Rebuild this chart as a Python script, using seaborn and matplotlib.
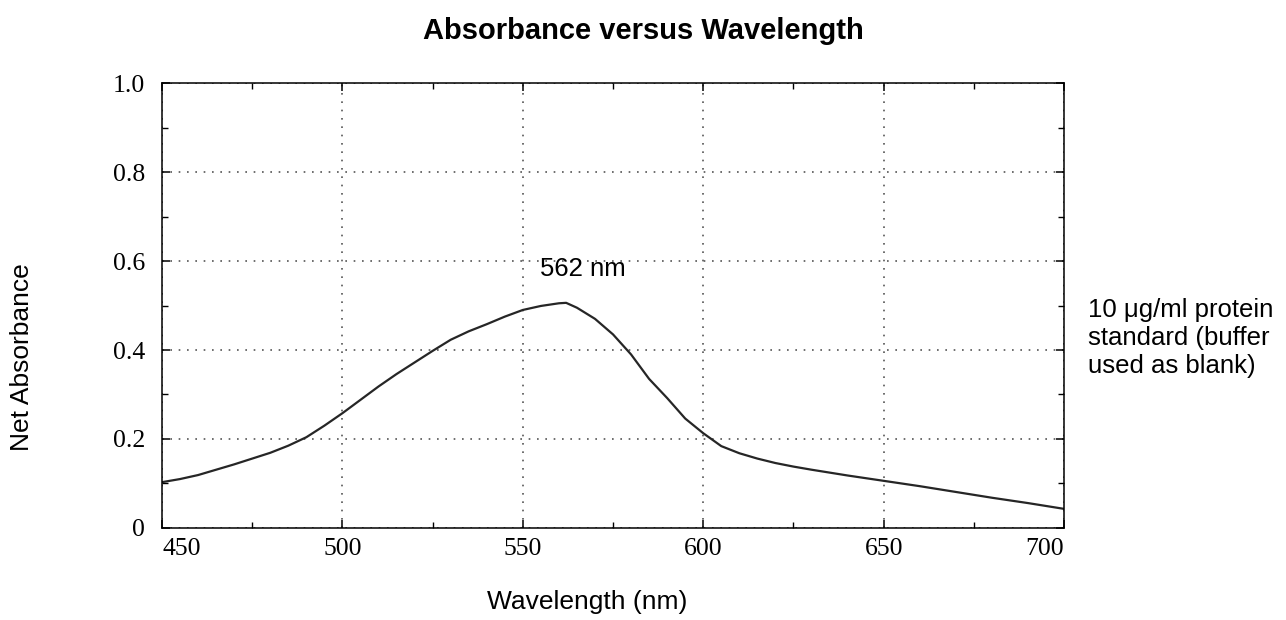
import matplotlib
matplotlib.use("Agg")
import matplotlib.pyplot as plt
import seaborn as sns
import pandas as pd
from matplotlib.ticker import MultipleLocator

# spectrum
wavelength = [450, 455, 460, 465, 470, 475, 480, 485, 490, 495,
              500, 505, 510, 515, 520, 525, 530, 535, 540, 545,
              550, 555, 560, 562, 565, 570, 575, 580, 585, 590,
              595, 600, 605, 610, 615, 620, 625, 630, 640, 650,
              660, 670, 680, 690, 700]
absorbance = [0.103, 0.110, 0.119, 0.131, 0.143, 0.156, 0.169, 0.185, 0.204, 0.230,
              0.258, 0.288, 0.318, 0.346, 0.372, 0.398, 0.423, 0.442, 0.458, 0.475,
              0.490, 0.499, 0.505, 0.506, 0.495, 0.470, 0.435, 0.390, 0.335, 0.292,
              0.246, 0.213, 0.184, 0.168, 0.156, 0.146, 0.138, 0.131, 0.118, 0.106,
              0.094, 0.081, 0.068, 0.056, 0.043]

x_ticks = [450, 500, 550, 600, 650, 700]
y_ticks = [0, 0.2, 0.4, 0.6, 0.8, 1.0]
y_tick_labels = ["0", "0.2", "0.4", "0.6", "0.8", "1.0"]

df = pd.DataFrame({"wavelength": wavelength, "absorbance": absorbance})

sns.set_style("ticks")
plt.rcParams["font.family"] = ["Liberation Sans", "DejaVu Sans"]
plt.rcParams["text.color"] = "black"
plt.rcParams["axes.labelcolor"] = "black"

fig = plt.figure(figsize=(12.86, 6.2), dpi=100)
ax = fig.add_axes([0.126, 0.1484, 0.7014, 0.7177])

sns.lineplot(x="wavelength", y="absorbance", data=df, ax=ax,
             color="#262626", linewidth=1.6)

ax.set_xlim(450, 700)
ax.set_ylim(0, 1.0)
ax.set_xticks(x_ticks)
ax.set_yticks(y_ticks)
ax.set_yticklabels(y_tick_labels)
ax.xaxis.set_minor_locator(MultipleLocator(25))
ax.yaxis.set_minor_locator(MultipleLocator(0.1))

ax.grid(True, which="major", color="#555555", linestyle=(0, (1, 4)), linewidth=1.2)
ax.tick_params(which="both", direction="in", top=True, right=True, colors="black")
ax.tick_params(which="major", length=6, width=1.1)
ax.tick_params(which="minor", length=4, width=1.0)
ax.tick_params(axis="y", which="major", pad=12)
ax.tick_params(axis="x", which="major", pad=7)
for lab in ax.get_xticklabels() + ax.get_yticklabels():
    lab.set_fontfamily("Liberation Serif")
    lab.set_fontsize(18.5)
    lab.set_color("black")
xlabs = ax.get_xticklabels()
xlabs[0].set_ha("left")
xlabs[-1].set_ha("right")

for s in ax.spines.values():
    s.set_color("black")
    s.set_linewidth(1.1)

ax.set_xlabel("Wavelength (nm)", fontsize=19, va="center")
ax.xaxis.set_label_coords(0.471, -0.166)
ax.set_ylabel("Net Absorbance", fontsize=19, va="center")
ax.yaxis.set_label_coords(-0.155, 0.384)

ax.text(566.7, 0.5655, "562 nm", fontsize=18.5, ha="center", va="baseline")

fig.text(0.846, 0.455, "10 \u03bcg/ml protein\nstandard (buffer\nused as blank)",
         fontsize=18.5, ha="left", va="center", linespacing=1.2)

fig.suptitle("Absorbance versus Wavelength", fontsize=21, fontweight="bold",
             x=0.5, y=0.95, va="center")

fig.savefig("out.png", dpi=100)
